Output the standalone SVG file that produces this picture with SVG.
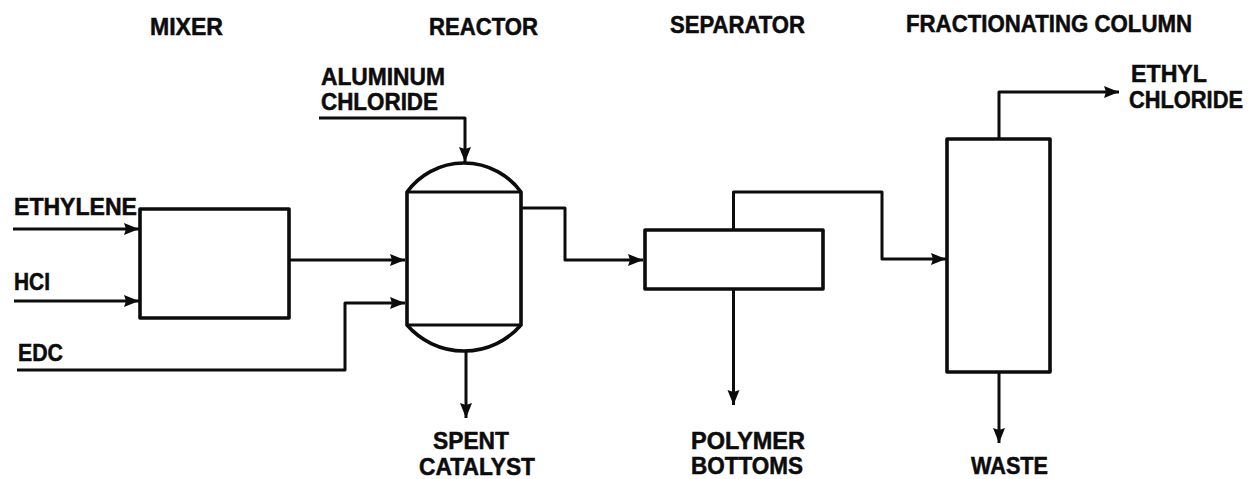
<svg xmlns="http://www.w3.org/2000/svg" width="1249" height="479" viewBox="0 0 1249 479">
<style>
.n{fill:none;stroke:#0c0c0c;stroke-width:3.6;stroke-linejoin:round}
.c{fill:none;stroke:#0c0c0c;stroke-width:3;stroke-linejoin:round;marker-end:url(#a)}
.p{fill:none;stroke:#0c0c0c;stroke-width:3}
text{font-family:"Liberation Sans",Arial,sans-serif;font-weight:700;font-size:23px;fill:#0c0c0c;stroke:#0c0c0c;stroke-width:.5}
</style>
<defs><marker id="a" markerUnits="userSpaceOnUse" markerWidth="16" markerHeight="14" refX="15" refY="7" orient="auto"><path d="M0 1L15 7L0 13L2 7Z" fill="#0c0c0c"/></marker></defs>
<rect width="1249" height="479" fill="#fff"/>
<g id="connectors">
<path class="c" d="M13 229H139"/>
<path class="c" d="M14 301H139"/>
<path class="c" d="M289 260H405"/>
<path class="c" d="M17 370H345V303H405"/>
<path class="c" d="M319 118H465V162"/>
<path class="c" d="M466 351V418"/>
<path class="c" d="M521 208H565V260H643"/>
<path class="c" d="M733.500 229V192H882V259H946"/>
<path class="c" d="M733.500 289V405"/>
<path class="c" d="M999 139V92H1119"/>
<path class="c" d="M999 372V443"/>
</g>
<g id="mixer"><rect class="n" x="140" y="209" width="149" height="109"/></g>
<g id="reactor"><path class="n" d="M407 192V325A75.500 75.500 0 0 0 521 325V192A70.500 70.500 0 0 0 407 192Z"/><path class="p" d="M407 192H521M407 325H521"/></g>
<g id="separator"><rect class="n" x="645" y="230" width="178" height="59"/></g>
<g id="column"><rect class="n" x="947" y="139" width="103" height="233"/></g>
<g id="labels">
<text x="150" y="35" textLength="73" lengthAdjust="spacingAndGlyphs">MIXER</text>
<text x="429" y="35" textLength="109" lengthAdjust="spacingAndGlyphs">REACTOR</text>
<text x="670" y="33" textLength="135" lengthAdjust="spacingAndGlyphs">SEPARATOR</text>
<text x="906" y="32" textLength="286" lengthAdjust="spacingAndGlyphs">FRACTIONATING COLUMN</text>
<text x="321" y="85" textLength="124" lengthAdjust="spacingAndGlyphs">ALUMINUM</text>
<text x="321" y="110" textLength="117" lengthAdjust="spacingAndGlyphs">CHLORIDE</text>
<text x="1131" y="82" textLength="76" lengthAdjust="spacingAndGlyphs">ETHYL</text>
<text x="1129" y="108" textLength="114" lengthAdjust="spacingAndGlyphs">CHLORIDE</text>
<text x="14" y="215" textLength="123" lengthAdjust="spacingAndGlyphs">ETHYLENE</text>
<text x="14" y="290" textLength="36" lengthAdjust="spacingAndGlyphs">HCI</text>
<text x="18" y="361" textLength="45" lengthAdjust="spacingAndGlyphs">EDC</text>
<text x="433" y="449" textLength="76" lengthAdjust="spacingAndGlyphs">SPENT</text>
<text x="419" y="475" textLength="116" lengthAdjust="spacingAndGlyphs">CATALYST</text>
<text x="691" y="449" textLength="114" lengthAdjust="spacingAndGlyphs">POLYMER</text>
<text x="691" y="474" textLength="112" lengthAdjust="spacingAndGlyphs">BOTTOMS</text>
<text x="971" y="474" textLength="77" lengthAdjust="spacingAndGlyphs">WASTE</text>
</g>
</svg>
